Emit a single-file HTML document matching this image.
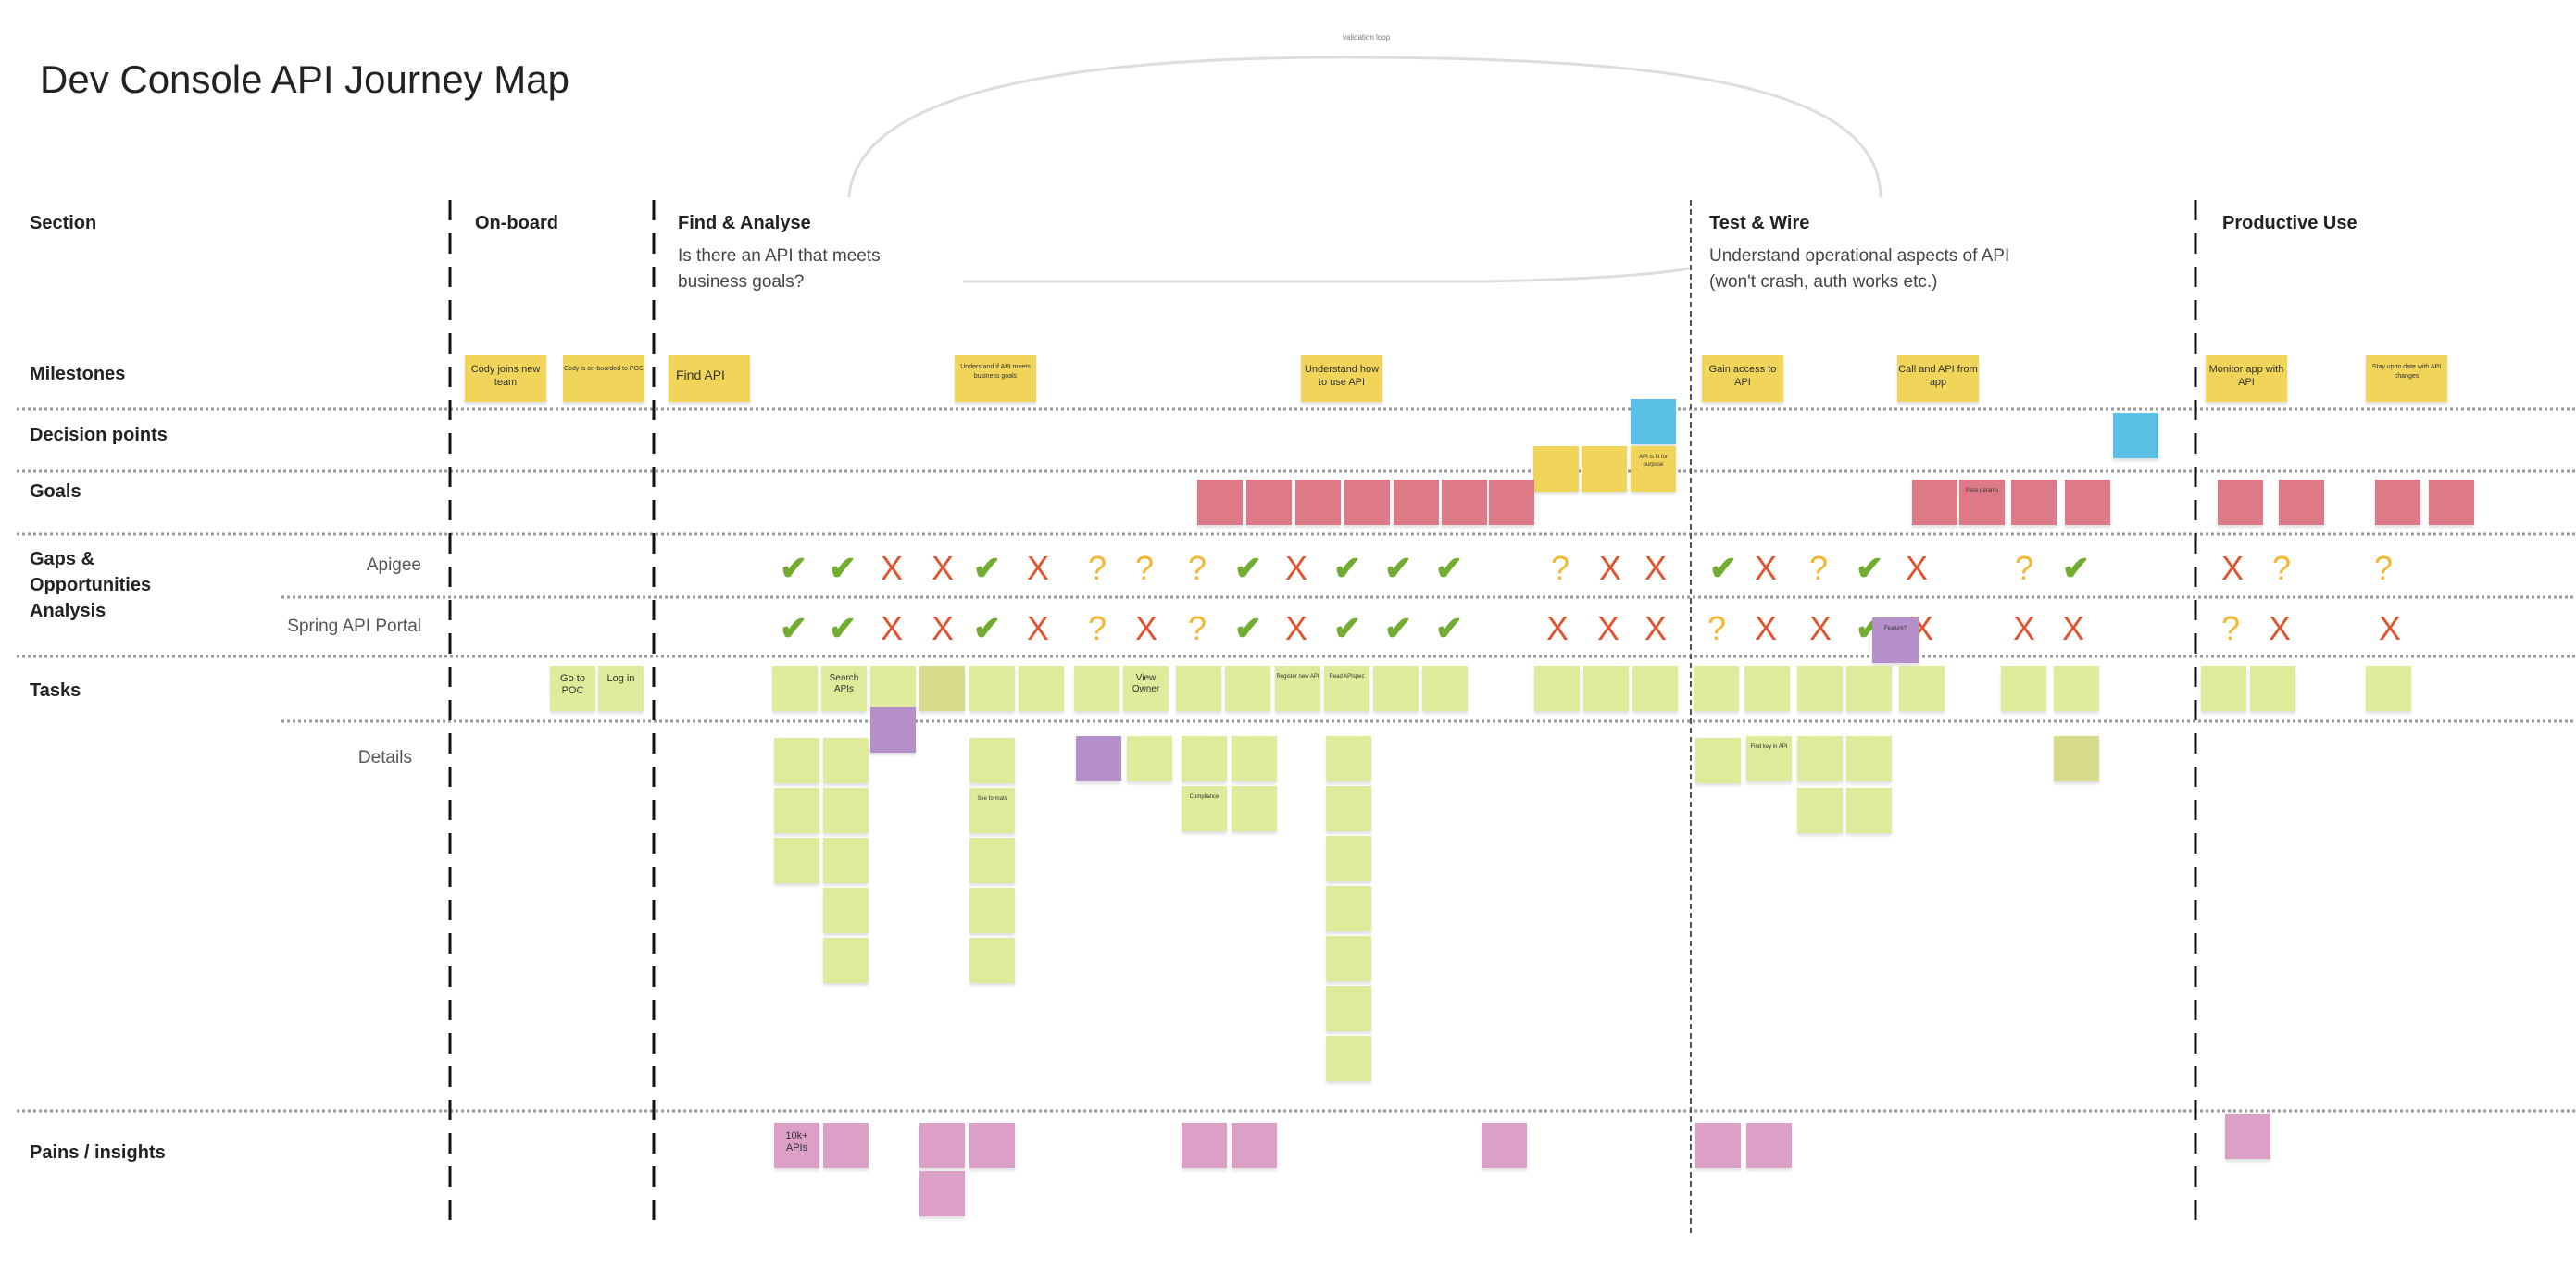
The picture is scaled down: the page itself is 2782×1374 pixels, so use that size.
<!DOCTYPE html>
<html><head><meta charset="utf-8"><style>
body{margin:0;width:2782px;height:1374px;background:#fff;position:relative;overflow:hidden;font-family:"Liberation Sans",sans-serif;}
.a{position:absolute}
.t{position:absolute;font-weight:bold;font-size:20px;color:#222;white-space:nowrap}
.n{position:absolute;width:49px;height:49px;font-size:6px;line-height:8px;color:#333;text-align:center;box-shadow:0 3px 3px rgba(0,0,0,0.12);overflow:hidden;padding-top:8px;box-sizing:border-box}
.m{width:88px;height:50px;background:#f0d55a;font-size:11px;line-height:14px;padding-top:8px}
.g{background:#de7a88}
.y{background:#f0d55a}
.b{background:#5bc0e6}
.k{background:#dfeb9a}
.o{background:#d6dc8c}
.p{background:#b690c9}
.q{background:#dc9fc6}
.s{position:absolute;font-size:36px;font-weight:bold;line-height:36px;transform:translateX(-50%)}
.c{color:#72ad32}.x{color:#e0552f;font-weight:normal}.u{color:#f3b731;font-weight:normal}
</style></head><body>
<svg class="a" style="left:0;top:0" width="2782" height="1374">
<path d="M917 213 C 925 100, 1150 60, 1475 62 C 1800 64, 2030 90, 2031 213" fill="none" stroke="#ddd" stroke-width="3"/>
<path d="M1040 304 L 1600 304 C 1700 302, 1780 298, 1824 290" fill="none" stroke="#ddd" stroke-width="3"/>
<g stroke="#999" stroke-width="3" stroke-dasharray="3 3">
<line x1="18" y1="442" x2="2782" y2="442"/>
<line x1="18" y1="509" x2="2782" y2="509"/>
<line x1="18" y1="577" x2="2782" y2="577"/>
<line x1="304" y1="645" x2="2782" y2="645"/>
<line x1="18" y1="709" x2="2782" y2="709"/>
<line x1="304" y1="779" x2="2782" y2="779"/>
<line x1="18" y1="1200" x2="2782" y2="1200"/>
</g>
<g stroke="#111" stroke-width="3" stroke-dasharray="22 14">
<line x1="486" y1="216" x2="486" y2="1332"/>
<line x1="706" y1="216" x2="706" y2="1332"/>
<line x1="2371" y1="216" x2="2371" y2="1332"/>
</g>
<line x1="1826" y1="216" x2="1826" y2="1332" stroke="#555" stroke-width="2" stroke-dasharray="6 4"/>
</svg>
<div class="a" style="left:1450px;top:36px;font-size:8px;color:#777">validation loop</div>
<div class="a" style="left:43px;top:62px;font-size:42px;color:#222">Dev Console API Journey Map</div>
<div class="t" style="left:32px;top:230px">Section</div>
<div class="t" style="left:513px;top:230px">On-board</div>
<div class="t" style="left:732px;top:230px">Find &amp; Analyse</div>
<div class="t" style="left:1846px;top:230px">Test &amp; Wire</div>
<div class="t" style="left:2400px;top:230px">Productive Use</div>
<div class="a" style="left:732px;top:263px;font-size:19px;line-height:28px;color:#444">Is there an API that meets<br>business goals?</div>
<div class="a" style="left:1846px;top:263px;font-size:19px;line-height:28px;color:#444">Understand operational aspects of API<br>(won't crash, auth works etc.)</div>
<div class="t" style="left:32px;top:393px">Milestones</div>
<div class="t" style="left:32px;top:459px">Decision points</div>
<div class="t" style="left:32px;top:520px">Goals</div>
<div class="t" style="left:32px;top:590px;line-height:28px">Gaps &amp;<br>Opportunities<br>Analysis</div>
<div class="a" style="left:300px;width:155px;text-align:right;top:600px;font-size:19px;color:#555">Apigee</div>
<div class="a" style="left:250px;width:205px;text-align:right;top:666px;font-size:19px;color:#555">Spring API Portal</div>
<div class="t" style="left:32px;top:735px">Tasks</div>
<div class="a" style="left:300px;width:145px;text-align:right;top:808px;font-size:19px;color:#555">Details</div>
<div class="t" style="left:32px;top:1234px">Pains / insights</div>

<!-- milestones -->
<div class="n m" style="left:502px;top:384px">Cody joins new team</div>
<div class="n m" style="left:608px;top:384px;font-size:7px">Cody is on-boarded to POC</div>
<div class="n m" style="left:722px;top:384px;text-align:left;padding-left:8px;font-size:14px;padding-top:14px">Find API</div>
<div class="n m" style="left:1031px;top:384px;font-size:7px;line-height:10px">Understand if API meets business goals</div>
<div class="n m" style="left:1405px;top:384px">Understand how to use API</div>
<div class="n m" style="left:1838px;top:384px">Gain access to API</div>
<div class="n m" style="left:2049px;top:384px">Call and API from app</div>
<div class="n m" style="left:2382px;top:384px">Monitor app with API</div>
<div class="n m" style="left:2555px;top:384px;font-size:7px;line-height:10px">Stay up to date with API changes</div>

<!-- decision -->
<div class="n b" style="left:1761px;top:431px"></div>
<div class="n b" style="left:2282px;top:446px"></div>
<div class="n y" style="left:1656px;top:482px"></div>
<div class="n y" style="left:1708px;top:482px"></div>
<div class="n y" style="left:1761px;top:482px">API is fit for purpose</div>

<!-- goals -->
<div class="n g" style="left:1293px;top:518px"></div>
<div class="n g" style="left:1346px;top:518px"></div>
<div class="n g" style="left:1399px;top:518px"></div>
<div class="n g" style="left:1452px;top:518px"></div>
<div class="n g" style="left:1505px;top:518px"></div>
<div class="n g" style="left:1557px;top:518px"></div>
<div class="n g" style="left:1608px;top:518px"></div>
<div class="n g" style="left:2065px;top:518px"></div>
<div class="n g" style="left:2116px;top:518px">Pass params</div>
<div class="n g" style="left:2172px;top:518px"></div>
<div class="n g" style="left:2230px;top:518px"></div>
<div class="n g" style="left:2395px;top:518px"></div>
<div class="n g" style="left:2461px;top:518px"></div>
<div class="n g" style="left:2565px;top:518px"></div>
<div class="n g" style="left:2623px;top:518px"></div>

<!-- symbols apigee -->
<div style="position:absolute;top:596px;left:0">
<span class="s c" style="left:857px">✔</span><span class="s c" style="left:910px">✔</span><span class="s x" style="left:963px">X</span><span class="s x" style="left:1018px">X</span><span class="s c" style="left:1066px">✔</span><span class="s x" style="left:1121px">X</span><span class="s u" style="left:1185px">?</span><span class="s u" style="left:1236px">?</span><span class="s u" style="left:1293px">?</span><span class="s c" style="left:1348px">✔</span><span class="s x" style="left:1400px">X</span><span class="s c" style="left:1455px">✔</span><span class="s c" style="left:1510px">✔</span><span class="s c" style="left:1565px">✔</span><span class="s u" style="left:1685px">?</span><span class="s x" style="left:1739px">X</span><span class="s x" style="left:1788px">X</span><span class="s c" style="left:1861px">✔</span><span class="s x" style="left:1907px">X</span><span class="s u" style="left:1964px">?</span><span class="s c" style="left:2019px">✔</span><span class="s x" style="left:2070px">X</span><span class="s u" style="left:2186px">?</span><span class="s c" style="left:2242px">✔</span><span class="s x" style="left:2411px">X</span><span class="s u" style="left:2464px">?</span><span class="s u" style="left:2574px">?</span>
</div>
<div style="position:absolute;top:661px;left:0">
<span class="s c" style="left:857px">✔</span><span class="s c" style="left:910px">✔</span><span class="s x" style="left:963px">X</span><span class="s x" style="left:1018px">X</span><span class="s c" style="left:1066px">✔</span><span class="s x" style="left:1121px">X</span><span class="s u" style="left:1185px">?</span><span class="s x" style="left:1238px">X</span><span class="s u" style="left:1293px">?</span><span class="s c" style="left:1348px">✔</span><span class="s x" style="left:1400px">X</span><span class="s c" style="left:1455px">✔</span><span class="s c" style="left:1510px">✔</span><span class="s c" style="left:1565px">✔</span><span class="s x" style="left:1682px">X</span><span class="s x" style="left:1737px">X</span><span class="s x" style="left:1788px">X</span><span class="s u" style="left:1854px">?</span><span class="s x" style="left:1907px">X</span><span class="s x" style="left:1966px">X</span><span class="s c" style="left:2019px">✔</span><span class="s x" style="left:2076px">X</span><span class="s x" style="left:2186px">X</span><span class="s x" style="left:2239px">X</span><span class="s u" style="left:2409px">?</span><span class="s x" style="left:2462px">X</span><span class="s x" style="left:2581px">X</span>
</div>
<div class="n p" style="left:2022px;top:667px;width:50px">Feature?</div>

<!-- tasks -->
<div class="n k" style="left:594px;top:719px;font-size:11px;line-height:13px">Go to POC</div>
<div class="n k" style="left:646px;top:719px;font-size:11px;line-height:13px">Log in</div>
<div class="n k" style="left:834px;top:719px"></div>
<div class="n k" style="left:887px;top:719px;font-size:10px;line-height:12px">Search APIs</div>
<div class="n k" style="left:940px;top:719px"></div>
<div class="n o" style="left:993px;top:719px"></div>
<div class="n k" style="left:1047px;top:719px"></div>
<div class="n k" style="left:1100px;top:719px"></div>
<div class="n k" style="left:1160px;top:719px"></div>
<div class="n k" style="left:1213px;top:719px;font-size:10px;line-height:12px">View Owner</div>
<div class="n k" style="left:1270px;top:719px"></div>
<div class="n k" style="left:1323px;top:719px"></div>
<div class="n k" style="left:1377px;top:719px">Register new API</div>
<div class="n k" style="left:1430px;top:719px">Read APIspec</div>
<div class="n k" style="left:1483px;top:719px"></div>
<div class="n k" style="left:1536px;top:719px"></div>
<div class="n k" style="left:1657px;top:719px"></div>
<div class="n k" style="left:1710px;top:719px"></div>
<div class="n k" style="left:1763px;top:719px"></div>
<div class="n k" style="left:1829px;top:719px"></div>
<div class="n k" style="left:1884px;top:719px"></div>
<div class="n k" style="left:1941px;top:719px"></div>
<div class="n k" style="left:1994px;top:719px"></div>
<div class="n k" style="left:2051px;top:719px"></div>
<div class="n k" style="left:2161px;top:719px"></div>
<div class="n k" style="left:2218px;top:719px"></div>
<div class="n k" style="left:2377px;top:719px"></div>
<div class="n k" style="left:2430px;top:719px"></div>
<div class="n k" style="left:2555px;top:719px"></div>

<!-- details -->
<div class="n p" style="left:940px;top:764px"></div>
<div class="n k" style="left:836px;top:797px"></div><div class="n k" style="left:836px;top:851px"></div><div class="n k" style="left:836px;top:905px"></div>
<div class="n k" style="left:889px;top:797px"></div><div class="n k" style="left:889px;top:851px"></div><div class="n k" style="left:889px;top:905px"></div><div class="n k" style="left:889px;top:959px"></div><div class="n k" style="left:889px;top:1013px"></div>
<div class="n k" style="left:1047px;top:797px"></div><div class="n k" style="left:1047px;top:851px">See formats</div><div class="n k" style="left:1047px;top:905px"></div><div class="n k" style="left:1047px;top:959px"></div><div class="n k" style="left:1047px;top:1013px"></div>
<div class="n p" style="left:1162px;top:795px"></div>
<div class="n k" style="left:1217px;top:795px"></div>
<div class="n k" style="left:1276px;top:795px"></div><div class="n k" style="left:1276px;top:849px">Compliance</div>
<div class="n k" style="left:1330px;top:795px"></div><div class="n k" style="left:1330px;top:849px"></div>
<div class="n k" style="left:1432px;top:795px"></div><div class="n k" style="left:1432px;top:849px"></div><div class="n k" style="left:1432px;top:903px"></div><div class="n k" style="left:1432px;top:957px"></div><div class="n k" style="left:1432px;top:1011px"></div><div class="n k" style="left:1432px;top:1065px"></div><div class="n k" style="left:1432px;top:1119px"></div>
<div class="n k" style="left:1831px;top:797px"></div>
<div class="n k" style="left:1886px;top:795px">Find key in API</div>
<div class="n k" style="left:1941px;top:795px"></div><div class="n k" style="left:1941px;top:851px"></div>
<div class="n k" style="left:1994px;top:795px"></div><div class="n k" style="left:1994px;top:851px"></div>
<div class="n o" style="left:2218px;top:795px"></div>

<!-- pains -->
<div class="n q" style="left:836px;top:1213px;font-size:11px;line-height:13px">10k+ APIs</div>
<div class="n q" style="left:889px;top:1213px"></div>
<div class="n q" style="left:993px;top:1213px"></div><div class="n q" style="left:993px;top:1265px"></div>
<div class="n q" style="left:1047px;top:1213px"></div>
<div class="n q" style="left:1276px;top:1213px"></div>
<div class="n q" style="left:1330px;top:1213px"></div>
<div class="n q" style="left:1600px;top:1213px"></div>
<div class="n q" style="left:1831px;top:1213px"></div>
<div class="n q" style="left:1886px;top:1213px"></div>
<div class="n q" style="left:2403px;top:1203px"></div>
</body></html>
